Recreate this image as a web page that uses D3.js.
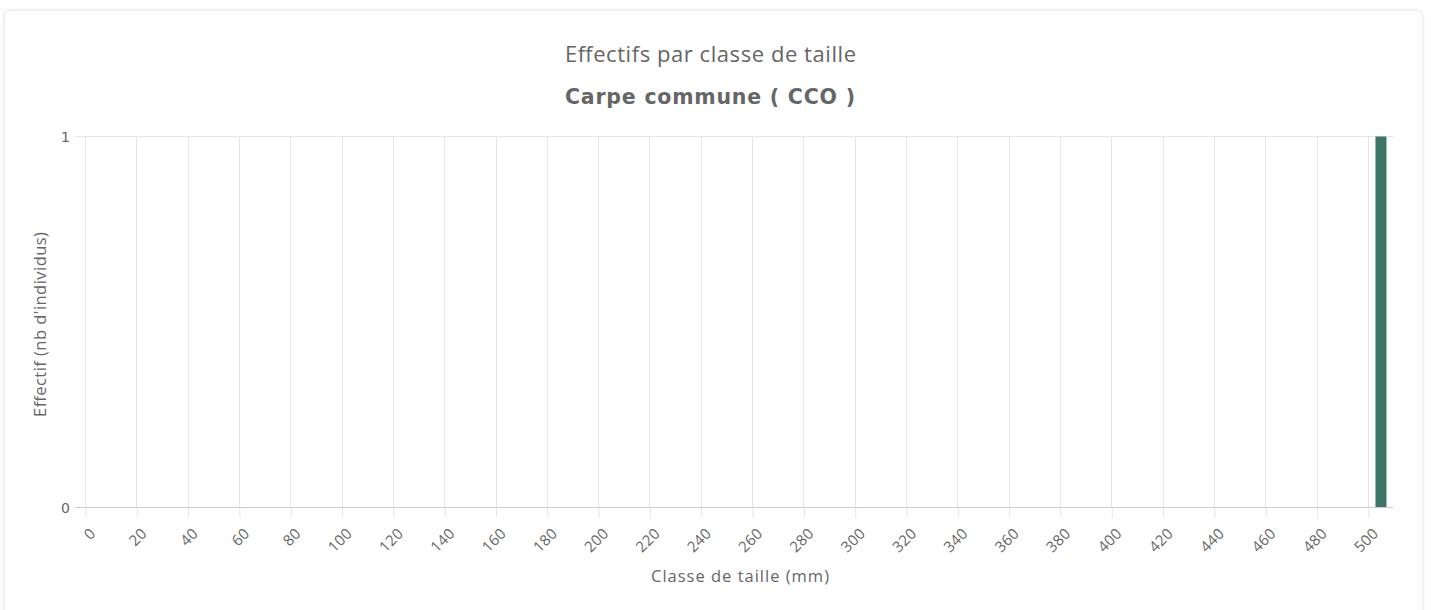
<!DOCTYPE html>
<html><head><meta charset="utf-8">
<script src="https://cdn.jsdelivr.net/npm/d3@7"></script>
<style>
html,body{margin:0;padding:0;background:#fff;}
svg{display:block;}
</style></head>
<body>
<svg id="chart" width="1431" height="610"></svg>
<script>
const title = "Effectifs par classe de taille";
const subtitle = "Carpe commune ( CCO )";
const xAxisTitle = "Classe de taille (mm)";
const yAxisTitle = "Effectif (nb d'individus)";
const sizeClasses = [505];
const counts = [1];
const xTicks = [0,20,40,60,80,100,120,140,160,180,200,220,240,260,280,300,320,340,360,380,400,420,440,460,480,500];
const yTicks = [0,1];
const xDomain = [0,510];
const yDomain = [0,1];
const barColor = "#3d7566";

const svg = d3.select("#chart");
const font = "'Open Sans', sans-serif";

// card
const defs = svg.append("defs");
const f = defs.append("filter").attr("id","sh").attr("x","-5%").attr("y","-5%").attr("width","110%").attr("height","110%");
f.append("feDropShadow").attr("dx",0).attr("dy",0).attr("stdDeviation",1.5).attr("flood-color","#000").attr("flood-opacity",0.12);
svg.append("rect").attr("x",4.5).attr("y",10.5).attr("width",1418).attr("height",620).attr("rx",5)
  .attr("fill","#fff").attr("stroke","#ececec").attr("filter","url(#sh)");

const L = 85, R = 1393.5, T = 136.5, B = 507.5;
const x = d3.scaleLinear().domain(xDomain).range([L, R]);
const y = d3.scaleLinear().domain(yDomain).range([B, T]);

// vertical grid
svg.append("g").selectAll("line").data(xTicks).join("line")
  .attr("x1",d=>Math.round(x(d))+0.5).attr("x2",d=>Math.round(x(d))+0.5)
  .attr("y1",T).attr("y2",B).attr("stroke","#e6e6e6");
// horizontal grid
svg.append("g").selectAll("line").data(yTicks.filter(d=>d>0)).join("line")
  .attr("x1",L-10).attr("x2",R).attr("y1",d=>y(d)).attr("y2",d=>y(d)).attr("stroke","#e6e6e6");

// bars
const bw = x(507.3) - x(503.0);
svg.append("g").selectAll("rect").data(sizeClasses).join("rect")
  .attr("x",(d)=>x(d)-bw/2 + 0.3).attr("width",bw)
  .attr("y",(d,i)=>y(counts[i])).attr("height",(d,i)=>y(0)-y(counts[i]))
  .attr("fill",barColor);

// x axis
const xa = svg.append("g").attr("transform",`translate(0,${B})`)
  .call(d3.axisBottom(x).tickValues(xTicks).tickSize(10).tickSizeOuter(0));
xa.select(".domain").remove();
xa.selectAll(".tick line").attr("stroke","#e6e6e6").attr("transform","translate(0.5,0)");
xa.selectAll(".tick text").attr("fill","#666").style("font-family",font).style("font-size","15px")
  .style("letter-spacing","0.3px")
  .attr("text-anchor","end").attr("dy",null).attr("y",0)
  .attr("transform","translate(11,27) rotate(-45)");
svg.append("line").attr("x1",L-10).attr("x2",R).attr("y1",B).attr("y2",B).attr("stroke","#cccccc");

// y axis labels
svg.append("g").selectAll("text").data(yTicks).join("text")
  .attr("x",70).attr("y",d=>y(d)+5).attr("text-anchor","end")
  .attr("fill","#666").style("font-family","'DejaVu Sans', sans-serif").style("font-size","14px").text(d=>d);

// titles
svg.append("text").attr("x",710.5).attr("y",62).attr("text-anchor","middle")
  .attr("fill","#666").style("font-family",font).style("font-size","22px")
  .attr("textLength",291).attr("lengthAdjust","spacing").text(title);
svg.append("text").attr("x",710).attr("y",104).attr("text-anchor","middle")
  .attr("fill","#666").style("font-family","'DejaVu Sans', sans-serif").style("font-weight","bold").style("font-size","20.5px")
  .attr("textLength",290).attr("lengthAdjust","spacing").text(subtitle);
svg.append("text").attr("x",740).attr("y",582).attr("text-anchor","middle")
  .attr("fill","#666").style("font-family",font).style("font-size","16.5px")
  .attr("textLength",178).attr("lengthAdjust","spacing").text(xAxisTitle);
svg.append("text").attr("transform","translate(46,324.5) rotate(-90)").attr("text-anchor","middle")
  .attr("fill","#666").style("font-family",font).style("font-size","16.5px")
  .attr("textLength",185).attr("lengthAdjust","spacing").text(yAxisTitle);
</script>
</body></html>
